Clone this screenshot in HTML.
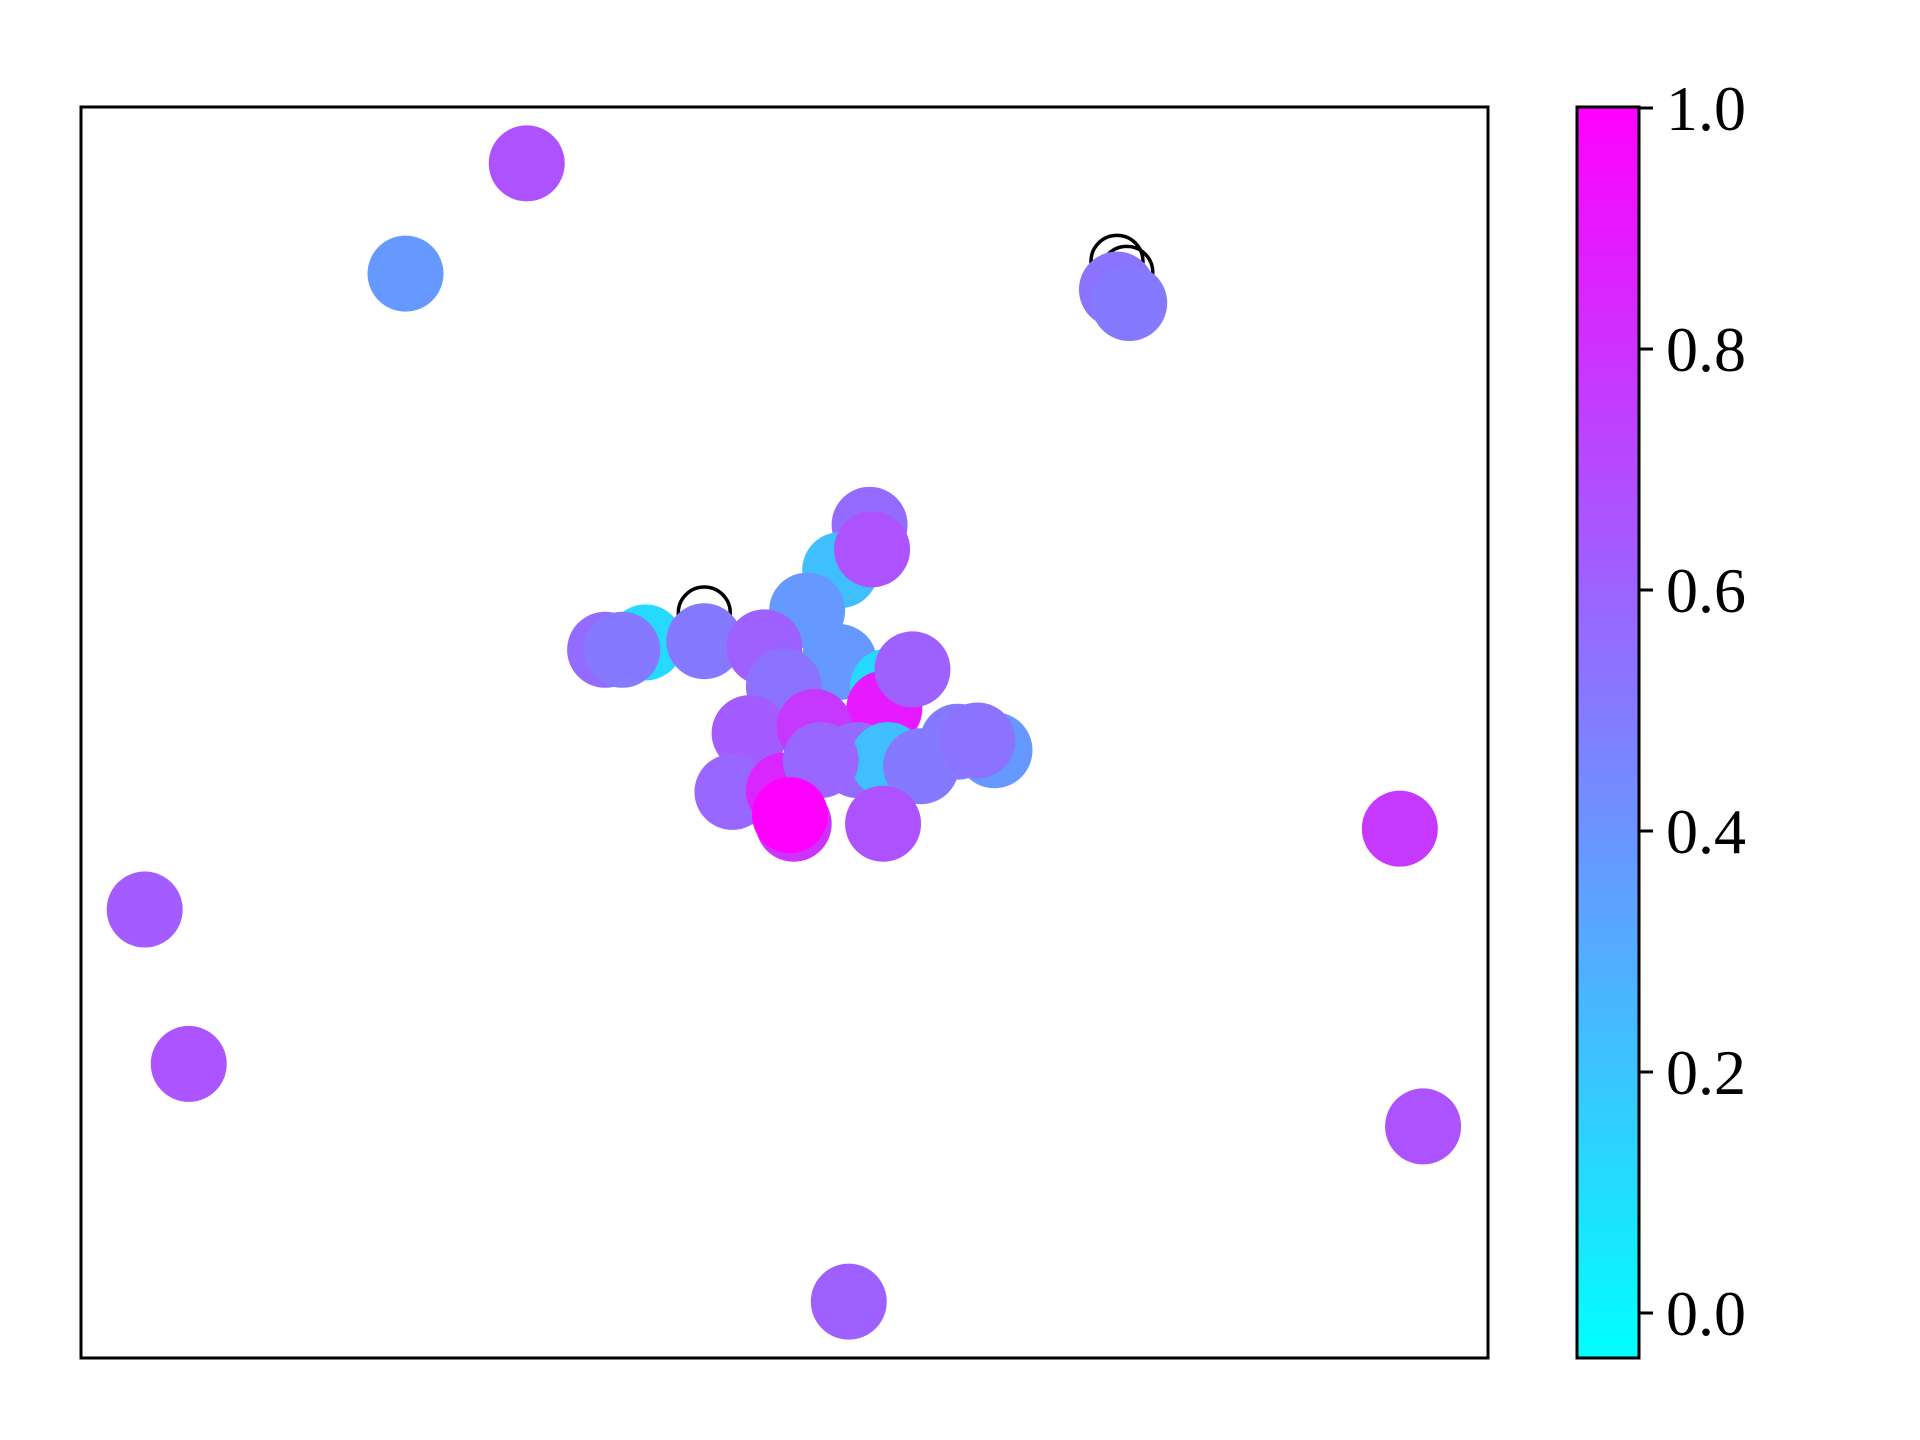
<!DOCTYPE html>
<html><head><meta charset="utf-8"><style>
html,body{margin:0;padding:0;background:#fff;}
svg{display:block;}
text{font-family:"Liberation Serif",serif;}
</style></head>
<body>
<svg id="chart" width="1920" height="1440" viewBox="0 0 1920 1440" xmlns="http://www.w3.org/2000/svg">
<defs>
<linearGradient id="cool" x1="0" y1="1" x2="0" y2="0">
<stop offset="0" stop-color="#00ffff"/><stop offset="1" stop-color="#ff00ff"/>
</linearGradient>
</defs>
<g id="marks"></g>
<rect x="81" y="107" width="1407" height="1251" fill="none" stroke="#000" stroke-width="3"/>
<rect x="1577" y="107" width="62" height="1251" fill="url(#cool)" stroke="#000" stroke-width="3"/>
<g id="cbticks"></g>
</svg>
<script>
const xs=[364,265,846,856,52,88,1077,1096,627,644,620,646,593,428,461,442,509,558,619,574,659,656,679,546,599,634,659,686,716,746,732,532,574,582,655,604,579];
const ys=[975,885,872,861,366,240,432,189,46,680,643,660,610,578,584,578,585,580,568,548,548,530,562,510,515,488,488,483,503,496,504,462,463,436,436,488,443];
const vals=[0.68,0.40,0.55,0.52,0.64,0.67,0.78,0.68,0.62,0.58,0.25,0.68,0.40,0.58,0.15,0.52,0.52,0.62,0.40,0.55,0.15,0.90,0.62,0.64,0.78,0.58,0.25,0.52,0.52,0.40,0.55,0.60,0.85,0.80,0.68,0.60,1.0];
const openX=[846,854,509];
const openY=[895,886,608];
const cbTicks=[0,0.2,0.4,0.6,0.8,1.0];
const cbLabels=["0.0","0.2","0.4","0.6","0.8","1.0"];
const NS="http://www.w3.org/2000/svg";
const X=d=>81+d/1149*1407, Y=d=>1358-d/1021*1251;
const CB=v=>1313-v*1205;
const col=v=>`rgb(${Math.round(255*v)},${Math.round(255*(1-v))},255)`;
const g=document.getElementById('marks');
for(let i=0;i<openX.length;i++){
 const c=document.createElementNS(NS,'circle');
 
 
 c.setAttribute('cx',X(openX[i]));c.setAttribute('cy',Y(openY[i]));c.setAttribute('r',26);
 c.setAttribute('fill','none');c.setAttribute('stroke','#000');c.setAttribute('stroke-width',3.5);
 g.appendChild(c);
}
for(let i=0;i<xs.length;i++){
 const c=document.createElementNS(NS,'circle');
 
 
 c.setAttribute('cx',X(xs[i]));c.setAttribute('cy',Y(ys[i]));c.setAttribute('r',38);
 c.setAttribute('fill',col(vals[i]));
 g.appendChild(c);
}
const t=document.getElementById('cbticks');
for(let i=0;i<cbTicks.length;i++){
 const y=CB(cbTicks[i]);
 const l=document.createElementNS(NS,'line');
 
 
 l.setAttribute('x1',1639);l.setAttribute('x2',1653);l.setAttribute('y1',y);l.setAttribute('y2',y);
 l.setAttribute('stroke','#000');l.setAttribute('stroke-width',3);
 t.appendChild(l);
 const tx=document.createElementNS(NS,'text');
 
 
 tx.setAttribute('x',1666);tx.setAttribute('y',y+22);tx.setAttribute('font-size',64);
 tx.textContent=cbLabels[i];
 t.appendChild(tx);
}
</script>
</body></html>
